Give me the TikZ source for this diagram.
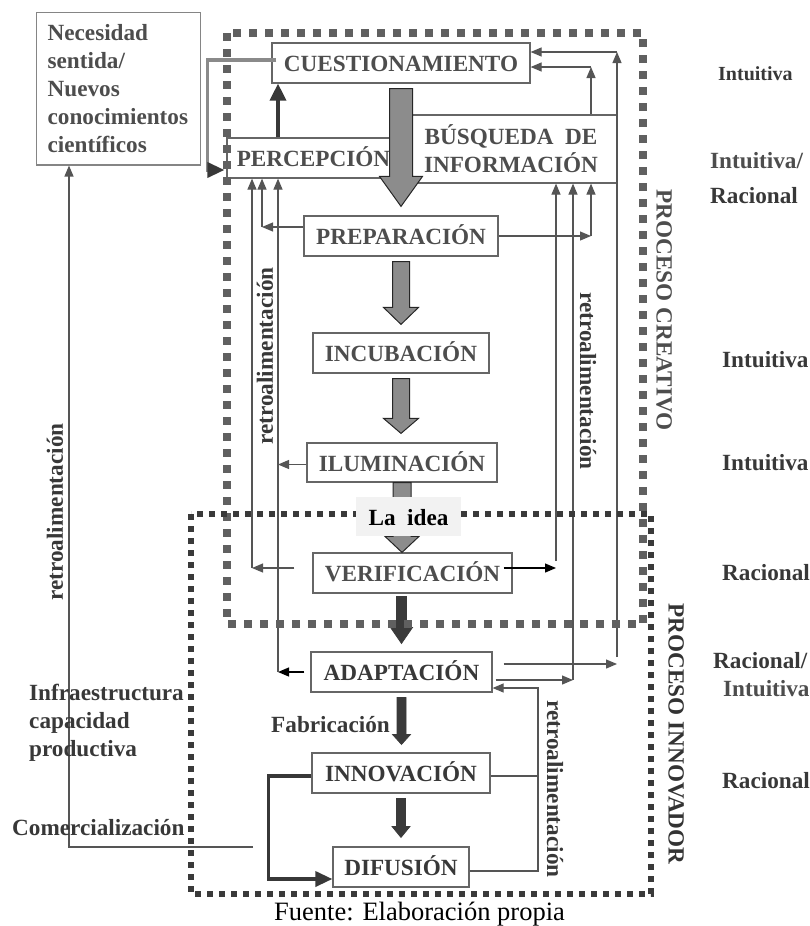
\documentclass[tikz,border=0pt]{standalone}
\usepackage{fontspec}
\setmainfont{Liberation Serif}
\usetikzlibrary{arrows.meta,calc}
\definecolor{boxgray}{HTML}{666666}
\definecolor{txtgray}{HTML}{4D4D4D}
\definecolor{txtdark}{HTML}{383838}
\definecolor{linegray}{HTML}{555555}
\definecolor{dashgray}{HTML}{606060}
\definecolor{dashdark}{HTML}{3A3A3A}
\definecolor{fillgray}{HTML}{8C8C8C}
\definecolor{pathgray}{HTML}{8A8A8A}
\definecolor{ideabg}{HTML}{F2F2F2}
\newcommand{\bigfont}{\fontsize{23.2}{28}\selectfont\bfseries}
\newcommand{\lblfont}{\fontsize{20}{24}\selectfont\bfseries}
\tikzset{
	stage/.style = {draw=boxgray, line width=1.2pt, text=txtgray, font=\bigfont, text height=17pt, text depth=0pt, inner sep=0pt},
	stagedark/.style = {stage, text=txtdark},
	fb/.style = {draw=linegray, line width=1.2pt, -{Triangle[length=11pt,width=9pt]}},
	fbblack/.style = {fb, draw=black},
	plain/.style = {draw=linegray, line width=1.2pt},
	grayarrow/.style = {draw=black!85, fill=fillgray, line width=1pt},
	darkarrow/.style = {draw=dashdark, fill=dashdark, line width=0.8pt},
	fat/.style n args = {3}{to path={let \p1=(\tikztostart), \p2=(\tikztotarget) in
		(\x1-#1,\y1) -- (\x1+#1,\y1) -- (\x1+#1,\y2+#3) -- (\x1+#2,\y2+#3) -- (\x1,\y2) -- (\x1-#2,\y2+#3) -- (\x1-#1,\y2+#3) -- cycle}},
	retro/.style = {text=txtdark, font=\bigfont, inner sep=0pt},
	lbl/.style = {text=txtdark, font=\bigfont, inner sep=0pt}
}
\begin{document}
\begin{tikzpicture}[x=1pt, y=-1pt]
		\useasboundingbox (0,0) rectangle (810,926);
		% stages
		\node [stage, minimum width=258, minimum height=40](cuest) at (401,63) {CUESTIONAMIENTO};
		\node [stage, minimum width=173, minimum height=40](perc) at (313.5,158) {PERCEPCIÓN};
		\node [stage, minimum width=212, minimum height=68, align=center, text height={}, text depth={}](busq) at (511,149) {BÚSQUEDA\ \ DE\\INFORMACIÓN};
		\node [stage, minimum width=194, minimum height=40](prep) at (401,236) {PREPARACIÓN};
		\node [stage, minimum width=176, minimum height=40](incub) at (401,353) {INCUBACIÓN};
		\node [stage, minimum width=190, minimum height=39](ilum) at (402,462.5) {ILUMINACIÓN};
		\node [stage, minimum width=199, minimum height=40](verif) at (412.5,573) {VERIFICACIÓN};
		\node [stagedark, minimum width=181, minimum height=40](adapt) at (401.5,672) {ADAPTACIÓN};
		\node [stagedark, minimum width=178, minimum height=40](innov) at (401,773) {INNOVACIÓN};
		\node [stagedark, minimum width=136, minimum height=40](dif) at (401,867) {DIFUSIÓN};
		\node [draw=boxgray!80, line width=1.2pt, anchor=north west, minimum width=164, minimum height=151, text width=142, inner xsep=11, inner ysep=12, align=left, text=txtgray, font=\bigfont](nec) at (36,12) {Necesidad\\sentida/\\Nuevos\\conocimientos\\científicos};
		% feedback buses
		\coordinate (L1) at (252,0); \coordinate (L2) at (262,0); \coordinate (L3) at (278,0);
		\coordinate (R1) at (556,0); \coordinate (R2) at (573,0); \coordinate (R3) at (591,0); \coordinate (R4) at (617,0);
		\coordinate (RF) at (538,0); \coordinate (RO) at (69,0);
		\draw [fb] ($(verif.west)+(-18,-5)$) coordinate (v1) -- (v1 -| L1);
		\draw [fb] (v1 -| L1) -- (L1 |- perc.south);
		\draw [fb] ($(prep.west)+(0,-9)$) coordinate (p1) -- (p1 -| L2);
		\draw [fb] (p1 -| L2) -- (L2 |- perc.south);
		\draw [fb] ($(ilum.west)+(0,2)$) coordinate (i1) -- (i1 -| L3);
		\draw [fbblack] ($(adapt.west)+(-6,0)$) -- (adapt.west -| L3);
		\draw [fb] (adapt.west -| L3) -- (L3 |- perc.south);
		\draw [fbblack] ($(verif.east)+(-9,-5)$) coordinate (v2) -- (v2 -| R1);
		\draw [fb] ($(v2 -| R1)+(0,-7)$) -- (R1 |- busq.south);
		\draw [fb] (prep.east) -- (prep.east -| R3);
		\draw [fb] (prep.east -| R3) -- (R3 |- busq.south);
		\draw [fb] ($(adapt.east)+(3,8)$) coordinate (a2) -- (a2 -| R2);
		\draw [fb] (a2 -| R2) -- (R2 |- busq.south);
		\draw [fb] ($(adapt.east)+(11,-8)$) coordinate (a1) -- (a1 -| R4);
		\draw [fb] ($(a1 -| R4)+(0,-7)$) -- ($(R4 |- cuest.east)+(0,-11)$) coordinate (c1);
		\draw [fb] (c1) -- (c1 -| cuest.east);
		\draw [fb] (R3 |- busq.north) -- ($(R3 |- cuest.east)+(0,4)$) coordinate (c2);
		\draw [fb] (c2) -- (c2 -| cuest.east);
		\draw [fb] ($(dif.east)+(0,4)$) -| ($(RF |- adapt.east)+(0,16)$) -- ($(adapt.east)+(0,16)$);
		\draw [plain] ($(innov.east)+(0,3)$) -- ($(innov.east -| RF)+(0,3)$);
		\coordinate (com) at (253,847);
		\draw [fb] (com) -- (com -| RO) -- (RO |- nec.south);
		% thick connectors
		\draw [draw=pathgray, line width=3.5pt, -{Triangle[length=17pt,width=15pt,color=txtdark]}] ($(cuest.west)+(5,-3)$) -- ++(-69,0) |- ($(perc.west)+(-2,12)$);
		\draw [draw=txtdark, line width=3.5pt, -{Triangle[length=17pt,width=16pt]}] ($(perc.north)+(-35.5,0)$) coordinate (p0) -- (p0 |- cuest.south);
		\draw [draw=txtdark, line width=3.5pt, -{Triangle[length=17pt,width=15pt]}] ($(innov.west)+(0,3)$) -- ++(-43,0) |- ($(dif.west)+(0,12)$);
		% main flow
		\draw [grayarrow, fat={11.5}{21.5}{30}] ($(cuest.south)+(0,5)$) to ($(prep.north)+(0,-9)$);
		\draw [grayarrow, fat={8.5}{17.5}{17}] ($(prep.south)+(0,5)$) to ($(incub.north)+(0,-8)$);
		\draw [grayarrow, fat={8.5}{17.5}{15}] ($(incub.south)+(0,5)$) to ($(ilum.north)+(0,-9)$);
		\draw [grayarrow, fat={9}{17}{16}] (ilum.south) to (ilum.south |- verif.north);
		\draw [darkarrow, fat={5}{11}{16}] ($(verif.south -| adapt.north)+(0,3)$) to ($(adapt.north)+(0,-8)$);
		\draw [darkarrow, fat={4.5}{9}{10}] ($(adapt.south)+(0,5)$) to ($(innov.north)+(0,-8)$);
		\draw [darkarrow, fat={4.5}{9}{11}] ($(innov.south)+(0,5)$) to ($(dif.north)+(0,-9)$);
		% process frames
		\draw [dashgray, line width=8pt, dash pattern=on 8pt off 8pt] (227,33) rectangle (643,624);
		\draw [dashdark, line width=6pt, dash pattern=on 6pt off 6pt] (191,514) rectangle (651,894);
		\node [fill=ideabg, minimum width=105, minimum height=39, inner sep=0pt, text height=17pt, text depth=0pt, font=\bigfont](idea) at (408.5,516.5) {La\ \ idea};
		% side texts
		\node [retro, rotate=90](retroL) at (265,356) {retroalimentación};
		\node [retro, rotate=-90](retroR) at (588,381) {retroalimentación};
		\node [retro, rotate=90](retroO) at (55,512) {retroalimentación};
		\node [retro, rotate=-90](retroI) at (555,789) {retroalimentación};
		\node [retro, text=txtgray, rotate=-90](creativo) at (664,310) {PROCESO CREATIVO};
		\node [retro, text=black!80, rotate=-90](innovador) at (676,734) {PROCESO INNOVADOR};
		\node [lbl, font=\lblfont, anchor=base west](m1) at (718,80) {Intuitiva};
		\node [lbl, text=txtgray, anchor=base west](m2) at (710,168) {Intuitiva/};
		\node [lbl, anchor=base west](m3) at (710,203) {Racional};
		\node [lbl, anchor=base west](m4) at (722,367) {Intuitiva};
		\node [lbl, anchor=base west](m5) at (722,470) {Intuitiva};
		\node [lbl, anchor=base west](m6) at (722,580) {Racional};
		\node [lbl, anchor=base west](m7) at (713,668) {Racional/};
		\node [lbl, text=txtgray, anchor=base west](m8) at (723,696) {Intuitiva};
		\node [lbl, anchor=base west](m9) at (722,788) {Racional};
		\node [lbl, anchor=north west, align=left](infra) at (29,684) {Infraestructura\\capacidad\\productiva};
		\node [lbl, anchor=base west](comer) at (12,835) {Comercialización};
		\node [lbl, anchor=base east](fabric) at (390,732) {Fabricación};
		\node [anchor=base west, inner sep=0pt, font=\fontsize{26.5}{30}\selectfont](fuente) at (274,920) {Fuente: Elaboración propia};
\end{tikzpicture}
\end{document}
